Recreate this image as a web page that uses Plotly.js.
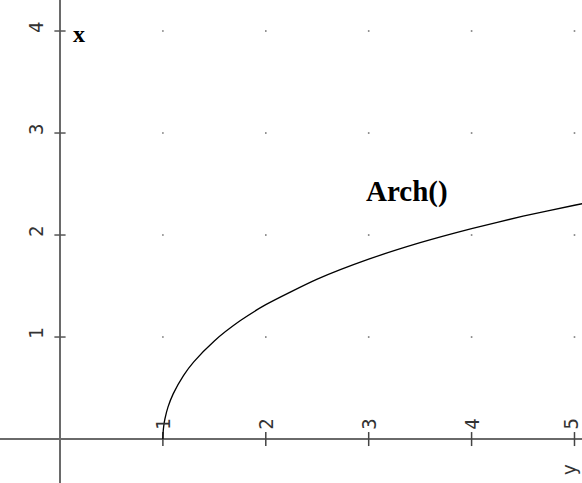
<!DOCTYPE html>
<html><head><meta charset="utf-8">
<script src="https://cdn.plot.ly/plotly-3.0.1.min.js"></script>
<style>html,body{margin:0;padding:0;background:#fff}#c{width:582px;height:483px}</style>
</head><body><div id="c"></div>
<script>
var xTicks = [1, 2, 3, 4, 5];
var yTicks = [1, 2, 3, 4];
var xTickLabels = ['1', '2', '3', '4', '5'];
var yTickLabels = ['1', '2', '3', '4'];
var curveX = [1, 1.002, 1.01, 1.02, 1.05, 1.1, 1.2, 1.3, 1.5, 1.75, 2, 2.5, 3, 3.5, 4, 4.5, 5, 5.1];
var curveY = [0, 0.063, 0.141, 0.199, 0.315, 0.443, 0.622, 0.756, 0.962, 1.159, 1.317, 1.567, 1.763, 1.925, 2.063, 2.185, 2.292, 2.312];
var curveName = 'Arch()';
var yAxisName = 'x';
var xAxisName = 'y';

var gx = [], gy = [];
xTicks.forEach(function(a){ yTicks.forEach(function(b){ gx.push(a); gy.push(b); }); });

var traces = [
  {x: gx, y: gy, mode: 'markers', type: 'scatter', hoverinfo: 'skip',
   marker: {size: 1.6, color: '#777', symbol: 'square'}},
  {x: xTicks, y: xTicks.map(function(){return 0;}), mode: 'markers', type: 'scatter',
   marker: {symbol: 'line-ns', size: 10, line: {width: 1.5, color: '#444'}}},
  {x: yTicks.map(function(){return 0;}), y: yTicks, mode: 'markers', type: 'scatter',
   marker: {symbol: 'line-ew', size: 8, line: {width: 1.5, color: '#555'}}},
  {x: curveX, y: curveY, mode: 'lines', type: 'scatter', line: {color: '#000', width: 1.3, shape: 'spline', smoothing: 0.6}}
];

var tickFont = {family: 'DejaVu Sans Mono', size: 19, color: '#333'};
var ann = [];
xTicks.forEach(function(v, i){
  ann.push({x: v, y: 0, xref: 'x', yref: 'y', text: xTickLabels[i], showarrow: false,
    textangle: -90, yshift: 15, xshift: (i === xTicks.length - 1 ? -3 : 0), font: tickFont});
});
yTicks.forEach(function(v, i){
  ann.push({x: 0, y: v, xref: 'x', yref: 'y', text: yTickLabels[i], showarrow: false,
    textangle: -90, xshift: -24, yshift: 4, font: tickFont});
});
ann.push({x: 0, y: 4, xref: 'x', yref: 'y', text: '<b>' + yAxisName + '</b>', showarrow: false,
  xshift: 19, yshift: -3, font: {family: 'Liberation Serif', size: 24, color: '#000'}});
ann.push({x: 3.37, y: 2.43, xref: 'x', yref: 'y', text: '<b>' + curveName + '</b>', showarrow: false,
  font: {family: 'Liberation Serif', size: 29, color: '#000'}});
ann.push({x: 5.0, y: 0, xref: 'x', yref: 'y', text: xAxisName, showarrow: false,
  textangle: -90, yshift: -31, xshift: -5, font: tickFont});

var layout = {
  width: 582, height: 483,
  margin: {l: 0, r: 0, t: 0, b: 0},
  paper_bgcolor: '#fff', plot_bgcolor: '#fff',
  showlegend: false,
  xaxis: {range: [-0.583, 5.073], showgrid: false, zeroline: true, zerolinecolor: '#6a6a6a', zerolinewidth: 2,
    showticklabels: false, ticks: '', fixedrange: true},
  yaxis: {range: [-0.431, 4.304], showgrid: false, zeroline: true, zerolinecolor: '#6a6a6a', zerolinewidth: 2,
    showticklabels: false, ticks: '', fixedrange: true},
  annotations: ann
};
Plotly.newPlot('c', traces, layout, {displayModeBar: false, staticPlot: true});
</script></body></html>
